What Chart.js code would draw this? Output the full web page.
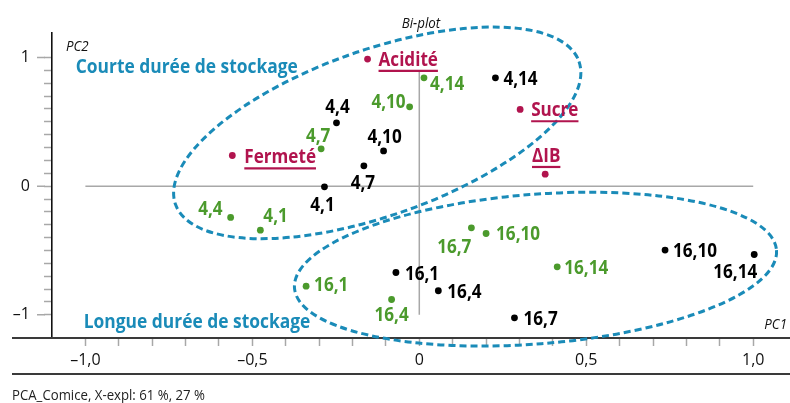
<!DOCTYPE html>
<html>
<head>
<meta charset="utf-8">
<script src="https://cdn.jsdelivr.net/npm/chart.js@4.4.1/dist/chart.umd.min.js"></script>
<style>
  body { margin: 0; background: #fff; }
  canvas { display: block; }
</style>
</head>
<body>
<canvas id="biplot" width="790" height="403"></canvas>
<script>
// scores for the two groups of samples, and the loadings of the variables
const blackLabels = ['4,1', '4,4', '4,7', '4,10', '4,14', '16,1', '16,4', '16,7', '16,10', '16,14'];
const blackPC1 = [-0.284, -0.248, -0.166, -0.107, 0.228, -0.070, 0.057, 0.285, 0.736, 1.003];
const blackPC2 = [-0.005, 0.492, 0.158, 0.274, 0.842, -0.671, -0.813, -1.023, -0.497, -0.531];

const greenLabels = ['4,1', '4,4', '4,7', '4,10', '4,14', '16,1', '16,4', '16,7', '16,10', '16,14'];
const greenPC1 = [-0.476, -0.565, -0.294, -0.029, 0.014, -0.339, -0.083, 0.156, 0.200, 0.413];
const greenPC2 = [-0.342, -0.243, 0.290, 0.616, 0.842, -0.777, -0.881, -0.324, -0.368, -0.627];

const varLabels = ['Fermeté', 'Acidité', 'Sucre', 'ΔIB'];
const varPC1 = [-0.560, -0.155, 0.302, 0.377];
const varPC2 = [0.238, 0.987, 0.596, 0.093];

const xTickValues = [-1, -0.5, 0, 0.5, 1];
const xTickLabels = ['–1,0', '–0,5', '0', '0,5', '1,0'];
const yTickValues = [-1, 0, 1];
const yTickLabels = ['–1', '0', '1'];

const groupNames = ['Courte durée de stockage', 'Longue durée de stockage'];
const caption = 'PCA_Comice, X-expl: 61 %, 27 %';

const BLACK = '#000000';
const GREEN = '#4b9a2c';
const CRIMSON = '#b1144e';
const BLUE = '#1a8bb8';
const GRAY = '#a8a8a8';
const FONT = '"Open Sans", "Noto Sans", sans-serif';

// where each label sits around its point: [align, dx, dy] in pixels
const blackPlace = [['center', -2, 17], ['center', 1, -17], ['center', -1, 16], ['center', 1, -15], ['left', 8, 0],
    ['left', 9, 1], ['left', 9, 0], ['left', 9, 0], ['left', 8, 0], ['right', 3, 17]];
const greenPlace = [['left', 3, -15], ['right', -8, -9], ['center', -3, -14], ['right', -4, -6], ['left', 6, 5],
    ['left', 8, -2], ['center', 0, 15], ['right', 0, 18], ['left', 10, 0], ['left', 7, 0]];
const varPlace = [['left', 12, 1], ['left', 11, 0], ['left', 11, 0], ['center', 1, -19]];

// the two groups, center in data units, radii in x units, tilt in degrees
const ellipses = [
    { cx: -0.126, cy: 0.414, a: 0.641, b: 0.248, angle: -19.5 },
    { cx: 0.348, cy: -0.645, a: 0.724, b: 0.224, angle: -4.5 }
];

function pts(xs, ys) {
    return xs.map((x, i) => ({ x: x, y: ys[i] }));
}

function minorTicks() {
    let t = [];
    for (let i = -10; i <= 10; i++) t.push({ value: i / 10 });
    return t;
}

function tickText(values, labels, v) {
    let i = values.findIndex(t => Math.abs(t - v) < 1e-6);
    return i >= 0 ? labels[i] : '';
}

// the original uses a condensed face, so squeeze the text a bit
function squeezeText(ctx, text, x, y, align, sx) {
    ctx.save();
    ctx.translate(x, y);
    ctx.scale(sx, 1);
    ctx.textAlign = align;
    ctx.fillText(text, 0, 0);
    ctx.restore();
    return ctx.measureText(text).width * sx;
}

const decorPlugin = {
    id: 'decor',
    beforeDatasetsDraw(chart) {
        const ctx = chart.ctx;
        const xs = chart.scales.x, ys = chart.scales.y;
        const area = chart.chartArea;
        ctx.save();

        // zero lines
        ctx.strokeStyle = GRAY;
        ctx.lineWidth = 1.5;
        ctx.beginPath();
        ctx.moveTo(xs.getPixelForValue(-1), ys.getPixelForValue(0));
        ctx.lineTo(xs.getPixelForValue(1), ys.getPixelForValue(0));
        ctx.moveTo(xs.getPixelForValue(0), ys.getPixelForValue(-1));
        ctx.lineTo(xs.getPixelForValue(0), ys.getPixelForValue(0.9));
        ctx.stroke();

        // longer major ticks on the y axis
        ctx.beginPath();
        yTickValues.forEach(v => {
            let py = ys.getPixelForValue(v);
            ctx.moveTo(area.left - 15, py);
            ctx.lineTo(area.left - 7, py);
        });
        ctx.stroke();

        // x axis line and the rule under the labels
        ctx.strokeStyle = '#3a3a3a';
        ctx.lineWidth = 2;
        ctx.beginPath();
        ctx.moveTo(12, area.bottom);
        ctx.lineTo(chart.width, area.bottom);
        ctx.moveTo(12, area.bottom + 36);
        ctx.lineTo(chart.width, area.bottom + 36);
        ctx.stroke();

        // group ellipses
        const unit = xs.getPixelForValue(1) - xs.getPixelForValue(0);
        ctx.strokeStyle = BLUE;
        ctx.lineWidth = 3;
        ctx.setLineDash([7, 4]);
        ellipses.forEach(e => {
            ctx.beginPath();
            ctx.ellipse(xs.getPixelForValue(e.cx), ys.getPixelForValue(e.cy), e.a * unit, e.b * unit,
                e.angle * Math.PI / 180, 0, Math.PI * 2);
            ctx.stroke();
        });
        ctx.setLineDash([]);

        // titles
        ctx.fillStyle = '#111';
        ctx.font = 'italic 14px ' + FONT;
        ctx.textBaseline = 'alphabetic';
        squeezeText(ctx, 'Bi-plot', xs.getPixelForValue(0.005), 28, 'center', 0.95);
        squeezeText(ctx, 'PC2', area.left + 14, area.top + 18, 'left', 0.95);
        squeezeText(ctx, 'PC1', chart.width - 3, area.bottom - 9, 'right', 0.95);

        ctx.fillStyle = BLUE;
        ctx.font = 'bold 20px ' + FONT;
        squeezeText(ctx, groupNames[0], xs.getPixelForValue(-1.029), ys.getPixelForValue(0.878), 'left', 0.87);
        squeezeText(ctx, groupNames[1], xs.getPixelForValue(-1.005), ys.getPixelForValue(-1.10), 'left', 0.87);

        ctx.fillStyle = '#222';
        ctx.font = '15px ' + FONT;
        squeezeText(ctx, caption, 12, chart.height - 3, 'left', 0.88);
        ctx.restore();
    },
    afterDatasetsDraw(chart) {
        const ctx = chart.ctx;
        const places = [blackPlace, greenPlace, varPlace];
        ctx.save();
        ctx.font = 'bold 19px ' + FONT;
        ctx.textBaseline = 'alphabetic';
        chart.data.datasets.forEach((ds, di) => {
            const meta = chart.getDatasetMeta(di);
            ctx.fillStyle = ds.borderColor;
            ctx.strokeStyle = ds.borderColor;
            meta.data.forEach((el, i) => {
                const [align, dx, dy] = places[di][i];
                const text = ds.labels[i];
                const x = el.x + dx, base = el.y + dy + 6.8;
                const w = squeezeText(ctx, text, x, base, align, 0.9);
                if (ds.underline) {
                    const x0 = align === 'left' ? x : align === 'right' ? x - w : x - w / 2;
                    ctx.lineWidth = 2.2;
                    ctx.beginPath();
                    ctx.moveTo(x0, base + 5);
                    ctx.lineTo(x0 + w, base + 5);
                    ctx.stroke();
                }
            });
        });
        ctx.restore();
    }
};

new Chart(document.getElementById('biplot'), {
    type: 'scatter',
    data: {
        datasets: [
            { data: pts(blackPC1, blackPC2), labels: blackLabels, backgroundColor: BLACK, borderColor: BLACK },
            { data: pts(greenPC1, greenPC2), labels: greenLabels, backgroundColor: GREEN, borderColor: GREEN },
            { data: pts(varPC1, varPC2), labels: varLabels, backgroundColor: CRIMSON, borderColor: CRIMSON, underline: true }
        ]
    },
    options: {
        responsive: false,
        animation: false,
        devicePixelRatio: 1,
        layout: { padding: { top: 33, left: 0, right: 0, bottom: 0 } },
        elements: { point: { radius: 3.4, borderWidth: 0, hoverRadius: 3.4 } },
        plugins: { legend: { display: false }, tooltip: { enabled: false } },
        scales: {
            x: {
                type: 'linear',
                min: -1.1,
                max: 1.1,
                afterBuildTicks: scale => { scale.ticks = minorTicks(); },
                afterFit: scale => { scale.height = 65; },
                border: { display: false },
                grid: { drawOnChartArea: false, tickLength: 8, tickColor: GRAY, tickWidth: 1.5 },
                ticks: {
                    autoSkip: false,
                    maxRotation: 0,
                    padding: 5,
                    color: '#111',
                    font: { family: FONT, size: 16 },
                    callback: v => tickText(xTickValues, xTickLabels, v)
                }
            },
            y: {
                type: 'linear',
                min: -1.18,
                max: 1.19,
                afterBuildTicks: scale => { scale.ticks = minorTicks(); },
                afterFit: scale => { scale.width = 52; },
                border: { display: true, color: '#111', width: 1.6 },
                grid: { drawOnChartArea: false, tickLength: 8, tickColor: GRAY, tickWidth: 1.5 },
                ticks: {
                    autoSkip: false,
                    padding: 14,
                    color: '#111',
                    font: { family: FONT, size: 16 },
                    callback: v => tickText(yTickValues, yTickLabels, v)
                }
            }
        }
    },
    plugins: [decorPlugin]
});
</script>
</body>
</html>
